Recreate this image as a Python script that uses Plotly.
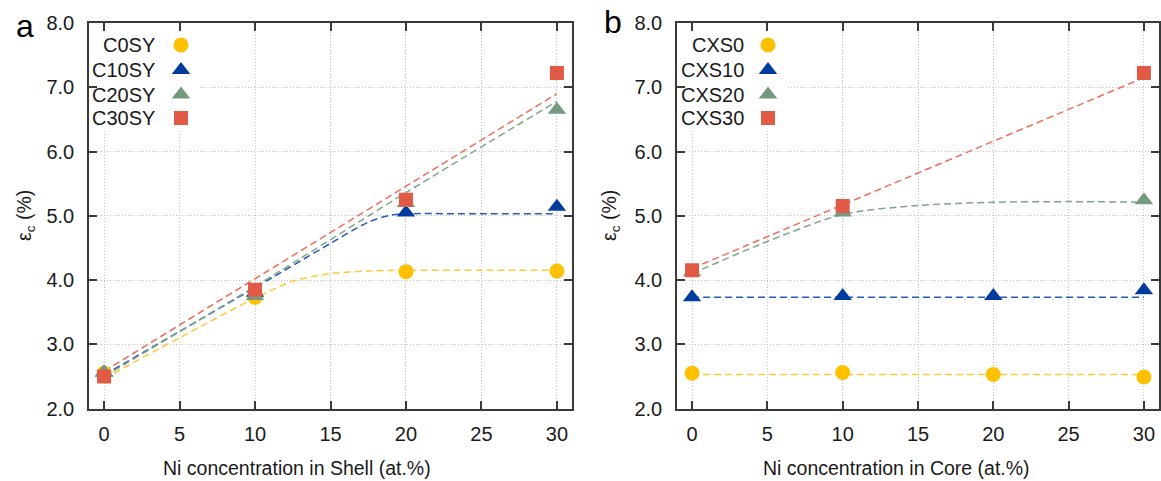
import plotly.graph_objects as go

# ---------------- data ----------------
x_pts = [0, 10, 20, 30]

# Panel a: Ni concentration in Shell
a_names = ["C0SY", "C10SY", "C20SY", "C30SY"]
a_C0SY = [2.55, 3.73, 4.13, 4.14]
a_C10SY = [2.56, 3.80, 5.05, 5.14]
a_C20SY = [2.56, 3.75, 5.20, 6.65]
a_C30SY = [2.50, 3.85, 5.25, 7.22]

# fitted (dashed) curves, panel a
fa_C0SY_x = [0, 5, 10, 12.5, 15, 17.5, 20, 25, 30]
fa_C0SY_y = [2.47, 3.10, 3.72, 3.98, 4.10, 4.14, 4.15, 4.15, 4.15]
fa_C10SY_x = [0, 5, 10, 15, 17.5, 19, 20, 25, 30]
fa_C10SY_y = [2.52, 3.20, 3.88, 4.57, 4.90, 5.01, 5.03, 5.03, 5.03]
fa_C20SY_x = [0, 10, 20, 30]
fa_C20SY_y = [2.50, 3.90, 5.36, 6.78]
fa_C30SY_x = [0, 30]
fa_C30SY_y = [2.58, 6.90]

# Panel b: Ni concentration in Core
b_names = ["CXS0", "CXS10", "CXS20", "CXS30"]
b_CXS0_x = [0, 10, 20, 30]
b_CXS0 = [2.55, 2.56, 2.53, 2.49]
b_CXS10_x = [0, 10, 20, 30]
b_CXS10 = [3.73, 3.75, 3.75, 3.84]
b_CXS20_x = [0, 10, 30]
b_CXS20 = [4.12, 5.05, 5.24]
b_CXS30_x = [0, 10, 30]
b_CXS30 = [4.15, 5.15, 7.22]

fb_CXS0_x = [0, 30]
fb_CXS0_y = [2.53, 2.53]
fb_CXS10_x = [0, 30]
fb_CXS10_y = [3.73, 3.73]
fb_CXS20_x = [0, 5, 10, 15, 20, 25, 30]
fb_CXS20_y = [4.10, 4.60, 5.02, 5.16, 5.21, 5.22, 5.21]
fb_CXS30_x = [0, 30]
fb_CXS30_y = [4.18, 7.15]

x_ticks = [0, 5, 10, 15, 20, 25, 30]
y_ticks = [2, 3, 4, 5, 6, 7, 8]

# ---------------- style ----------------
W, H = 1161, 481
marker_cols = ["#FFC000", "#003C9E", "#739A7F", "#E05A45"]
line_cols = ["#FFC93A", "#2A58B8", "#7FA58A", "#F06D58"]
symbols = ["circle", "triangle-up", "triangle-up", "square"]
msizes = [15, 16, 16, 14]
FONT = "Liberation Sans, Arial, sans-serif"
FS = 20
TXT = "#1a1a1a"
AX = "#3a3a3a"

fig = go.Figure()

def add_fit(x, y, col, xa, ya):
    fig.add_trace(go.Scatter(x=x, y=y, mode="lines", xaxis=xa, yaxis=ya,
                             line=dict(color=col, width=1.5, dash="7px,4px", shape="spline", smoothing=0.8),
                             showlegend=False, hoverinfo="skip"))

def add_pts(x, y, i, xa, ya):
    fig.add_trace(go.Scatter(x=x, y=y, mode="markers", xaxis=xa, yaxis=ya,
                             marker=dict(color=marker_cols[i], symbol=symbols[i], size=msizes[i],
                                         line=dict(width=0)),
                             showlegend=False))

# panel a
for i, (fx, fy) in enumerate([(fa_C0SY_x, fa_C0SY_y), (fa_C10SY_x, fa_C10SY_y),
                               (fa_C20SY_x, fa_C20SY_y), (fa_C30SY_x, fa_C30SY_y)]):
    add_fit(fx, fy, line_cols[i], "x", "y")
for i, yv in enumerate([a_C0SY, a_C10SY, a_C20SY, a_C30SY]):
    add_pts(x_pts, yv, i, "x", "y")

# panel b
for i, (fx, fy) in enumerate([(fb_CXS0_x, fb_CXS0_y), (fb_CXS10_x, fb_CXS10_y),
                               (fb_CXS20_x, fb_CXS20_y), (fb_CXS30_x, fb_CXS30_y)]):
    add_fit(fx, fy, line_cols[i], "x2", "y2")
for i, (xv, yv) in enumerate([(b_CXS0_x, b_CXS0), (b_CXS10_x, b_CXS10),
                               (b_CXS20_x, b_CXS20), (b_CXS30_x, b_CXS30)]):
    add_pts(xv, yv, i, "x2", "y2")

# white key boxes (hide grid behind the keys), pixel overlay axes
for bx0, bx1 in [(98, 200), (686, 788)]:
    fig.add_trace(go.Scatter(x=[bx0, bx1, bx1, bx0, bx0], y=[32, 32, 130, 130, 32], mode="lines",
                             fill="toself", fillcolor="white", line=dict(width=0, color="white"),
                             xaxis="x3", yaxis="y3", showlegend=False, hoverinfo="skip"))

# custom legends (text then symbol)
leg_rows = [45, 70, 94.5, 118]
leg_specs = [(a_names, 157, 181), (b_names, 746, 768)]
annotations = []
for names, tx, mx in leg_specs:
    for i, nm in enumerate(names):
        fig.add_trace(go.Scatter(x=[mx], y=[leg_rows[i]], mode="markers", xaxis="x3", yaxis="y3",
                                 marker=dict(color=marker_cols[i], symbol=symbols[i], size=msizes[i],
                                             line=dict(width=0)),
                                 showlegend=False, hoverinfo="skip"))
        annotations.append(dict(x=tx, y=leg_rows[i], xref="x3", yref="y3", text=nm, showarrow=False,
                                xanchor="right", yanchor="middle",
                                font=dict(family=FONT, size=FS, color=TXT)))

# domains
top_px, bot_px = 23, 408.5
yd = [1 - bot_px / H, 1 - top_px / H]
xa_dom = [89 / W, 572 / W]
xb_dom = [677 / W, 1159 / W]

def xaxis(dom, anchor):
    return dict(domain=dom, anchor=anchor, range=[-1, 31], tickvals=x_ticks, automargin=False,
                showline=True, linecolor=AX, linewidth=1.5, mirror="ticks",
                ticks="inside", ticklen=8, tickwidth=1.5, tickcolor=AX,
                showgrid=True, gridcolor="#c4c4c4", gridwidth=1, griddash="1px,2px",
                zeroline=False, ticklabelstandoff=7,
                tickfont=dict(family=FONT, size=FS, color=TXT))

def yaxis(anchor):
    return dict(domain=yd, anchor=anchor, range=[2, 8], tickvals=y_ticks, tickformat=".1f",
                automargin=False,
                showline=True, linecolor=AX, linewidth=1.5, mirror="ticks",
                ticks="inside", ticklen=8, tickwidth=1.5, tickcolor=AX,
                showgrid=True, gridcolor="#c4c4c4", gridwidth=1, griddash="1px,2px",
                zeroline=False, ticklabelstandoff=9,
                tickfont=dict(family=FONT, size=FS, color=TXT))

TFS = 19.5
# axis titles, panel labels
annotations += [
    dict(x=297, y=468, xref="x3", yref="y3", text="Ni concentration in Shell (at.%)", showarrow=False,
         xanchor="center", yanchor="middle", font=dict(family=FONT, size=TFS, color=TXT)),
    dict(x=896, y=468, xref="x3", yref="y3", text="Ni concentration in Core (at.%)", showarrow=False,
         xanchor="center", yanchor="middle", font=dict(family=FONT, size=TFS, color=TXT)),
    dict(x=25, y=216, xref="x3", yref="y3", text="ε<sub>c</sub> (%)", showarrow=False, textangle=-90,
         xanchor="center", yanchor="middle", font=dict(family=FONT, size=TFS, color=TXT)),
    dict(x=610, y=216, xref="x3", yref="y3", text="ε<sub>c</sub> (%)", showarrow=False, textangle=-90,
         xanchor="center", yanchor="middle", font=dict(family=FONT, size=TFS, color=TXT)),
    dict(x=25, y=26, xref="x3", yref="y3", text="a", showarrow=False,
         xanchor="center", yanchor="middle", font=dict(family=FONT, size=32, color="#000")),
    dict(x=613, y=22, xref="x3", yref="y3", text="b", showarrow=False,
         xanchor="center", yanchor="middle", font=dict(family=FONT, size=32, color="#000")),
]

fig.update_layout(
    width=W, height=H,
    margin=dict(l=0, r=0, t=0, b=0, pad=0),
    paper_bgcolor="white", plot_bgcolor="rgba(0,0,0,0)",
    showlegend=False,
    xaxis=xaxis(xa_dom, "y"), yaxis=yaxis("x"),
    xaxis2=xaxis(xb_dom, "y2"), yaxis2=yaxis("x2"),
    xaxis3=dict(domain=[0, 1], anchor="y3", range=[0, W], visible=False, fixedrange=True, automargin=False),
    yaxis3=dict(domain=[0, 1], anchor="x3", range=[H, 0], visible=False, fixedrange=True, automargin=False),
    annotations=annotations,
    font=dict(family=FONT, color=TXT),
)

fig.write_html("out.html")
